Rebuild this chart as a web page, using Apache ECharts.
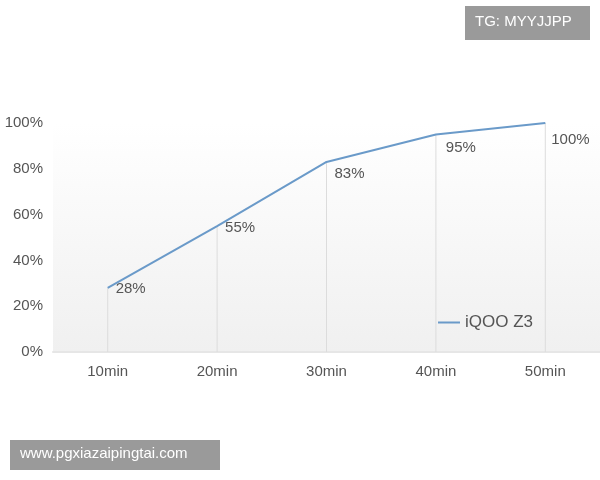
<!DOCTYPE html>
<html>
<head>
<meta charset="utf-8">
<script src="https://cdn.jsdelivr.net/npm/echarts@6/dist/echarts.min.js"></script>
<style>html,body{margin:0;padding:0;background:#fff}#main{width:600px;height:480px}</style>
</head>
<body>
<div id="main"></div>
<script>
var categories = ['10min', '20min', '30min', '40min', '50min'];
var values = [28, 55, 83, 95, 100];
var yTicks = [0, 20, 40, 60, 80, 100];

// label nudges so they sit below-right of the line, as in the original
var labelPos = [[8, -6], [8, -6], [8, 4], [10, 6], [6, 9]];

var font = 'Liberation Sans';
var chart = echarts.init(document.getElementById('main'));
var option = {
  backgroundColor: '#fff',
  animation: false,
  grid: { left: 53, right: -3, top: 123, bottom: 128,
    show: true, borderWidth: 0,
    backgroundColor: new echarts.graphic.LinearGradient(0, 0, 0, 1, [
      { offset: 0, color: '#ffffff' }, { offset: 1, color: '#f0f0f0' }]) },
  legend: {
    data: ['iQOO Z3'], right: 62, top: 309, itemWidth: 22, itemHeight: 2,
    icon: 'rect',
    textStyle: { color: '#555', fontSize: 17, fontFamily: font }
  },
  xAxis: {
    type: 'category', data: categories,
    axisLine: { lineStyle: { color: '#e6e6e6', width: 2 } },
    axisTick: { show: false },
    axisLabel: { color: '#555', fontSize: 15, margin: 12, fontFamily: font }
  },
  yAxis: {
    type: 'value', min: 0, max: 100, interval: 20,
    axisLine: { show: false }, axisTick: { show: false }, splitLine: { show: false },
    axisLabel: { color: '#555', fontSize: 15, margin: 10, fontFamily: font,
      formatter: function (v) { return yTicks.indexOf(v) >= 0 ? v + '%' : ''; } }
  },
  series: [{
    type: 'bar', data: values, barWidth: 1, silent: true,
    itemStyle: { color: '#dcdcdc' }, legendHoverLink: false
  }, {
    name: 'iQOO Z3', type: 'line',
    data: values.map(function (v, i) { return { value: v, label: { position: labelPos[i] } }; }),
    symbol: 'circle', symbolSize: 0.1,
    lineStyle: { color: '#6a9ac9', width: 2 }, itemStyle: { color: '#6a9ac9' },
    label: { show: true, formatter: '{c}%', color: '#555', fontSize: 15, fontFamily: font },
    z: 3
  }],
  graphic: [
    { type: 'rect', shape: { x: 465, y: 6, width: 125, height: 34 }, style: { fill: '#9a9a9a' } },
    { type: 'text', left: 475, top: 14, style: { text: 'TG: MYYJJPP', fill: '#fff', fontSize: 15, fontFamily: font } },
    { type: 'rect', shape: { x: 10, y: 440, width: 210, height: 30 }, style: { fill: '#9a9a9a' } },
    { type: 'text', left: 20, top: 446, style: { text: 'www.pgxiazaipingtai.com', fill: '#fff', fontSize: 15, fontFamily: font } }
  ]
};
chart.setOption(option);
</script>
</body>
</html>
